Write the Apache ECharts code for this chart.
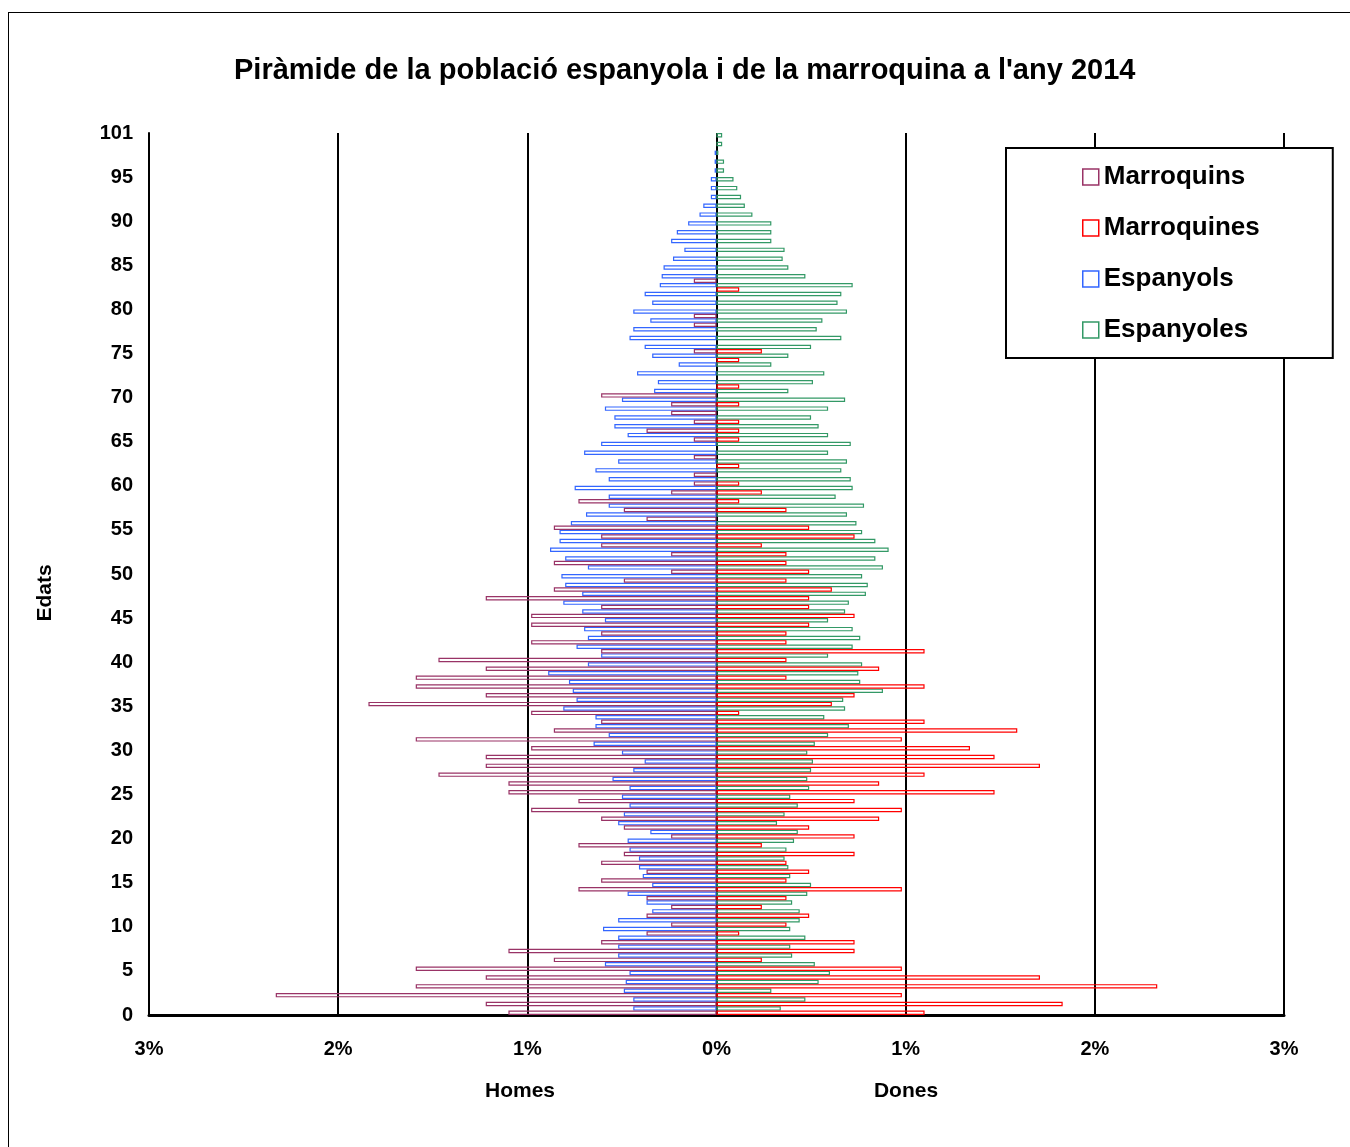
<!DOCTYPE html>
<html>
<head>
<meta charset="utf-8">
<title>Piràmide de la població espanyola i marroquina 2014</title>
<script src="https://cdn.jsdelivr.net/npm/echarts@6/dist/echarts.min.js"></script>
<style>
  html, body { margin: 0; padding: 0; background: #fff; overflow: hidden; }
  #frame { position: absolute; left: 8px; top: 12px; width: 1400px; height: 1200px; border-left: 1px solid #000; border-top: 1px solid #000; }
  #chart { position: absolute; left: 0; top: 0; width: 1350px; height: 1147px; }
</style>
</head>
<body>
<div id="frame"></div>
<div id="chart"></div>
<script>
// % of each population by age (0..99)
const marroquins = [
  1.10, 1.22, 2.33, 1.59, 1.22, 1.59, 0.86, 1.10, 0.61, 0.37,
  0.24, 0.37, 0.24, 0.37, 0.73, 0.61, 0.37, 0.61, 0.49, 0.73,
  0.24, 0.49, 0.61, 0.98, 0.73, 1.10, 1.10, 1.47, 1.22, 1.22,
  0.98, 1.59, 0.86, 0.61, 0.98, 1.84, 1.22, 1.59, 1.59, 1.22,
  1.47, 0.61, 0.98, 0.61, 0.98, 0.98, 0.61, 1.22, 0.86, 0.49,
  0.24, 0.86, 0.24, 0.61, 0.61, 0.86, 0.37, 0.49, 0.73, 0.24,
  0.12, 0.12, 0, 0.12, 0, 0.12, 0.37, 0.12, 0.24, 0.24,
  0.61, 0, 0, 0, 0, 0.12, 0, 0, 0.12, 0.12,
  0, 0, 0, 0.12, 0, 0, 0, 0, 0, 0,
  0, 0, 0, 0, 0, 0, 0, 0, 0, 0
]
const marroquines = [
  1.10, 1.83, 0.98, 2.33, 1.71, 0.98, 0.24, 0.73, 0.73, 0.12,
  0.37, 0.49, 0.24, 0.37, 0.98, 0.37, 0.49, 0.37, 0.73, 0.24,
  0.73, 0.49, 0.86, 0.98, 0.73, 1.47, 0.86, 1.10, 1.71, 1.47,
  1.34, 0.98, 1.59, 1.10, 0.12, 0.61, 0.73, 1.10, 0.37, 0.86,
  0.37, 1.10, 0.37, 0.37, 0.49, 0.73, 0.49, 0.49, 0.61, 0.37,
  0.49, 0.37, 0.37, 0.24, 0.73, 0.49, 0, 0.37, 0.12, 0.24,
  0.12, 0, 0.12, 0, 0, 0.12, 0.12, 0.12, 0, 0.12,
  0, 0.12, 0, 0, 0.12, 0.24, 0, 0, 0, 0,
  0, 0, 0.12, 0, 0, 0, 0, 0, 0, 0,
  0, 0, 0, 0, 0, 0, 0, 0, 0, 0
]
const espanyols = [
  0.44, 0.44, 0.49, 0.48, 0.46, 0.59, 0.52, 0.52, 0.52, 0.60,
  0.52, 0.34, 0.37, 0.47, 0.34, 0.39, 0.41, 0.41, 0.46, 0.47,
  0.35, 0.52, 0.49, 0.46, 0.50, 0.46, 0.55, 0.44, 0.38, 0.50,
  0.65, 0.57, 0.64, 0.64, 0.81, 0.74, 0.76, 0.78, 0.89, 0.68,
  0.61, 0.74, 0.68, 0.70, 0.59, 0.71, 0.81, 0.71, 0.80, 0.82,
  0.68, 0.80, 0.88, 0.83, 0.83, 0.77, 0.69, 0.57, 0.57, 0.75,
  0.57, 0.64, 0.52, 0.70, 0.61, 0.47, 0.54, 0.54, 0.59, 0.50,
  0.33, 0.31, 0.42, 0.20, 0.34, 0.38, 0.46, 0.44, 0.35, 0.44,
  0.34, 0.38, 0.30, 0.29, 0.28, 0.23, 0.17, 0.24, 0.21, 0.15,
  0.09, 0.07, 0.03, 0.03, 0.03, 0.01, 0.01, 0.01, 0, 0
]
const espanyoles = [
  0.34, 0.47, 0.29, 0.54, 0.60, 0.52, 0.40, 0.39, 0.47, 0.39,
  0.44, 0.44, 0.40, 0.48, 0.50, 0.39, 0.38, 0.36, 0.37, 0.41,
  0.43, 0.32, 0.36, 0.43, 0.39, 0.49, 0.48, 0.50, 0.51, 0.48,
  0.52, 0.59, 0.70, 0.57, 0.68, 0.67, 0.88, 0.76, 0.75, 0.77,
  0.59, 0.72, 0.76, 0.72, 0.59, 0.68, 0.70, 0.79, 0.80, 0.77,
  0.88, 0.84, 0.91, 0.84, 0.77, 0.74, 0.69, 0.78, 0.63, 0.72,
  0.71, 0.66, 0.69, 0.59, 0.71, 0.59, 0.54, 0.50, 0.59, 0.68,
  0.38, 0.51, 0.57, 0.29, 0.38, 0.50, 0.66, 0.53, 0.56, 0.69,
  0.64, 0.66, 0.72, 0.47, 0.38, 0.35, 0.36, 0.29, 0.29, 0.29,
  0.19, 0.15, 0.13, 0.11, 0.09, 0.04, 0.04, 0.01, 0.03, 0.03
]

const ages = marroquins.map((v, i) => String(i))
const ageTicks = ['0', '5', '10', '15', '20', '25', '30', '35', '40', '45', '50',
  '55', '60', '65', '70', '75', '80', '85', '90', '95', '101']
const seriesNames = ['Marroquins', 'Marroquines', 'Espanyols', 'Espanyoles']
const seriesColors = ['#993366', '#FF0000', '#3366FF', '#339966']

const font = '"Liberation Sans", Arial, sans-serif'
const chart = echarts.init(document.getElementById('chart'))

function barSeries(idx, values, male, stack) {
  return {
    name: seriesNames[idx],
    type: 'bar',
    stack: stack,
    barCategoryGap: '0%',
    barGap: '0%',
    itemStyle: { color: 'rgba(255,255,255,0)', borderColor: seriesColors[idx], borderWidth: 1.2 },
    data: values.map(v => (v ? (male ? -v : v) : null))
  }
}

chart.setOption({
  animation: false,
  title: {
    text: "Piràmide de la població espanyola i de la marroquina a l'any 2014",
    left: 234,
    top: 56,
    padding: 0,
    textStyle: { fontFamily: font, fontSize: 29, fontWeight: 'bold', color: '#000' }
  },
  legend: {
    data: seriesNames.map((n, i) => ({
      name: n,
      icon: 'rect',
      itemStyle: { color: '#fff', borderColor: seriesColors[i], borderWidth: 1.5 }
    })),
    orient: 'vertical',
    left: 1006,
    top: 148,
    padding: [16, 73, 15, 76],
    itemGap: 25,
    itemWidth: 16,
    itemHeight: 16,
    selectedMode: false,
    backgroundColor: '#fff',
    borderColor: '#000',
    borderWidth: 2,
    textStyle: { fontFamily: font, fontSize: 26, fontWeight: 'bold', color: '#000' }
  },
  grid: { left: 149, right: 66, top: 133, bottom: 132 },
  xAxis: {
    type: 'value',
    min: -3,
    max: 3,
    interval: 1,
    axisLine: { show: true, onZero: false, lineStyle: { color: '#000', width: 3 } },
    axisTick: { show: false },
    splitLine: { show: true, lineStyle: { color: '#000', width: 2 } },
    axisLabel: {
      margin: 24,
      formatter: v => Math.abs(v) + '%',
      fontFamily: font, fontSize: 20, fontWeight: 'bold', color: '#000'
    }
  },
  yAxis: [
    {
      type: 'category',
      data: ages,
      axisLine: { show: true, onZero: false, lineStyle: { color: '#000', width: 2 } },
      axisTick: { show: false },
      axisLabel: { show: false },
      splitLine: { show: false }
    },
    {
      type: 'value',
      position: 'left',
      min: 0,
      max: 100,
      interval: 5,
      axisLine: { show: false },
      axisTick: { show: false },
      splitLine: { show: false },
      axisLabel: {
        margin: 16,
        formatter: v => ageTicks[Math.round(v / 5)],
        fontFamily: font, fontSize: 20, fontWeight: 'bold', color: '#000'
      }
    }
  ],
  graphic: [
    { type: 'text', x: 520, y: 1091, style: { text: 'Homes', fontFamily: font, fontSize: 21, fontWeight: 'bold', fill: '#000', textAlign: 'center', textVerticalAlign: 'middle' } },
    { type: 'text', x: 906, y: 1091, style: { text: 'Dones', fontFamily: font, fontSize: 21, fontWeight: 'bold', fill: '#000', textAlign: 'center', textVerticalAlign: 'middle' } },
    { type: 'text', x: 45, y: 593, rotation: Math.PI / 2, style: { text: 'Edats', fontFamily: font, fontSize: 21, fontWeight: 'bold', fill: '#000', textAlign: 'center', textVerticalAlign: 'middle' } }
  ],
  series: [
    barSeries(2, espanyols, true, 'esp'),
    barSeries(3, espanyoles, false, 'esp'),
    barSeries(0, marroquins, true, 'mar'),
    barSeries(1, marroquines, false, 'mar')
  ]
})
</script>
</body>
</html>
